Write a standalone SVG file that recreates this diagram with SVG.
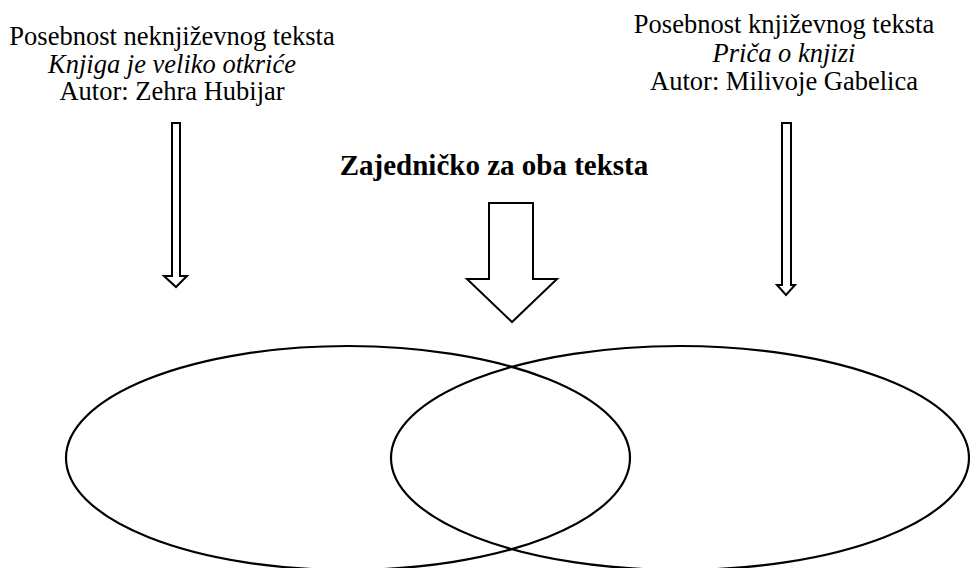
<svg xmlns="http://www.w3.org/2000/svg" width="970" height="568" viewBox="0 0 970 568">
  <style>
    .txt { font-family: "Liberation Serif", "Times New Roman", serif; font-size: 26.5px; fill: #000; text-anchor: middle; }
    .it { font-style: italic; }
    .title { font-family: "Liberation Serif", "Times New Roman", serif; font-size: 29px; font-weight: bold; fill: #000; text-anchor: middle; }
    .arrow { fill: #fff; stroke: #000; stroke-width: 2; stroke-linejoin: miter; }
    .set { fill: none; stroke: #000; stroke-width: 2.2; }
  </style>
  <rect width="970" height="568" fill="#fff"/>

  <!-- label for the non-literary text -->
  <g id="nonliterary-label">
    <text class="txt" x="172" y="45">Posebnost neknjiževnog teksta</text>
    <text class="txt it" x="172" y="72.5">Knjiga je veliko otkriće</text>
    <text class="txt" x="172" y="100">Autor: Zehra Hubijar</text>
  </g>

  <!-- label for the literary text -->
  <g id="literary-label">
    <text class="txt" x="784" y="33">Posebnost književnog teksta</text>
    <text class="txt it" x="784" y="61.5">Priča o knjizi</text>
    <text class="txt" x="784" y="90">Autor: Milivoje Gabelica</text>
  </g>

  <!-- common label -->
  <g id="common-label">
    <text class="title" x="494" y="175">Zajedničko za oba teksta</text>
  </g>

  <!-- block arrows pointing down to the sets -->
  <g id="connectors">
    <polygon class="arrow" points="172,123 180,123 180,276 187,276 176,287 164,276 172,276"/>
    <polygon class="arrow" points="489,203 533,203 533,279 557,279 512,322 467,279 489,279"/>
    <polygon class="arrow" points="782,123 791,123 791,285 795,285 786,295 777,285 782,285"/>
  </g>

  <!-- the two overlapping sets -->
  <g id="set-nonliterary">
    <ellipse class="set" cx="348" cy="458" rx="282" ry="112"/>
  </g>
  <g id="set-literary">
    <ellipse class="set" cx="680" cy="458" rx="289" ry="112"/>
  </g>
</svg>
